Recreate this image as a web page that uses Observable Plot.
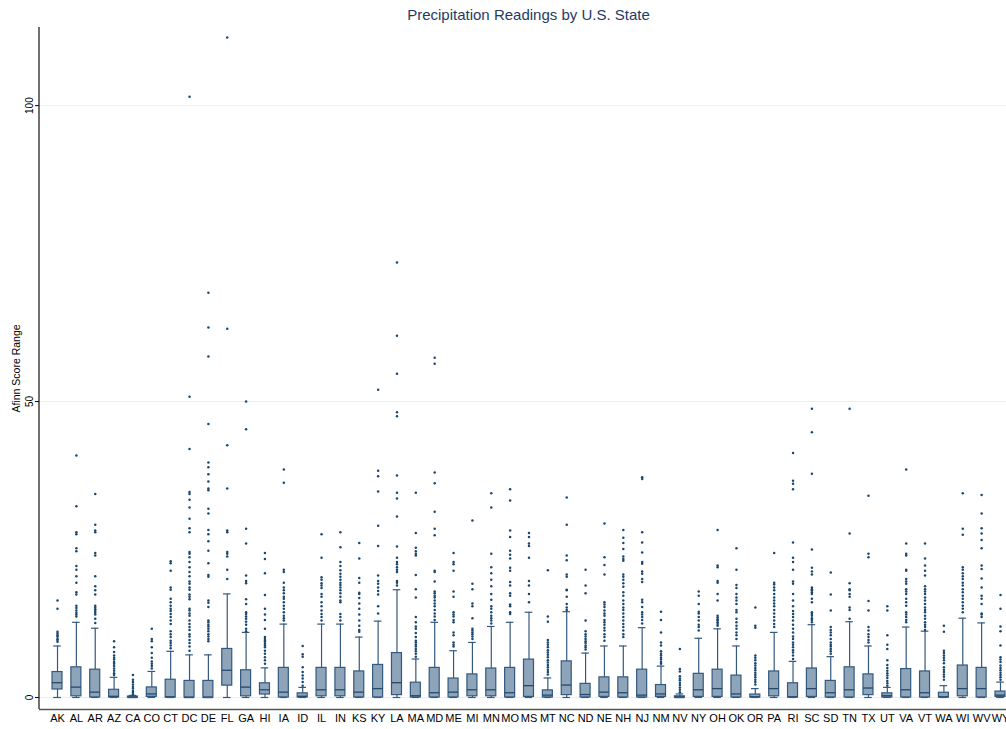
<!DOCTYPE html>
<html>
<head>
<meta charset="utf-8">
<script src="https://cdn.jsdelivr.net/npm/d3@7"></script>
<script src="https://cdn.jsdelivr.net/npm/@observablehq/plot@0.6"></script>
<style>
  html, body { margin: 0; padding: 0; background: #fff; overflow: hidden; }
  #wrap { position: relative; width: 1018px; height: 729px; }
  #title {
    position: absolute; left: 39px; width: 979px; top: 6px;
    text-align: center; line-height: 20px;
    font: 15px "Liberation Sans", Arial, sans-serif; color: #1e3b66;
  }
  #chart { position: absolute; left: 0; top: 27px; }
</style>
</head>
<body>
<div id="wrap">
  <div id="title">Precipitation Readings by U.S. State</div>
  <div id="chart"></div>
</div>
<script>
// States along the x axis
const states = ["AK","AL","AR","AZ","CA","CO","CT","DC","DE","FL","GA","HI","IA","ID","IL","IN","KS","KY","LA","MA","MD","ME","MI","MN","MO","MS","MT","NC","ND","NE","NH","NJ","NM","NV","NY","OH","OK","OR","PA","RI","SC","SD","TN","TX","UT","VA","VT","WA","WI","WV","WY"];

// Box statistics per state (same order as states)
const whiskerLow = states.map(() => 0);
const boxLow = [1.35,0.2,0,0,0,0.1,0,0,0,2.0,0.2,0.5,0,0,0.2,0.2,0,0,0.4,0,0,0,0.2,0.2,0,0.1,0,0.4,0,0.1,0,0,0.1,0,0.1,0.1,0,0,0.2,0,0.1,0,0,0.4,0,0,0,0,0.2,0,0.1];
const boxMedian = [2.5,1.75,0.9,0.2,0,0.6,0.1,0,0,4.6,1.75,1.3,0.9,0.2,1.3,1.3,0.9,1.5,2.5,0.3,0.8,0.9,1.3,1.3,0.8,2.0,0.4,2.1,0.5,0.9,0.8,0.4,0.6,0,1.3,1.5,0.6,0.1,1.5,0.1,1.5,0.8,1.3,1.6,0.3,1.3,0.8,0.1,1.5,1.5,0.4];
const boxHigh = [4.3,5.1,4.7,1.3,0.15,1.7,3.0,2.8,2.8,8.2,4.6,2.4,5.0,0.7,5.0,5.0,4.4,5.5,7.5,2.5,5.0,3.2,3.9,4.9,5.0,6.4,1.2,6.1,2.3,3.4,3.4,4.7,2.1,0.2,4.0,4.7,3.7,0.5,4.4,2.4,4.9,2.8,5.1,3.9,0.7,4.8,4.4,0.8,5.4,5.0,1.0];
const whiskerHigh = [8.7,12.7,11.7,3.4,0.35,4.4,7.8,7.2,7.2,17.5,11.0,5.0,12.4,1.7,12.4,12.4,10.2,12.9,18.2,6.5,12.7,7.9,9.3,12.0,12.7,14.4,3.3,14.5,7.5,8.7,8.7,11.8,5.3,0.6,10.0,11.6,8.7,1.5,11.0,6.1,12.3,6.9,12.8,8.7,1.7,11.9,11.2,2.0,13.4,12.6,2.6];

// Outside values per state (same order as states)
const outliers = [
  [16.4,15.0,11.1,10.8,10.5,10.25,9.9,9.7,9.4],
  [40.9,32.3,27.9,27.6,25.2,24.7,22.2,21.6,20.5,19.4,17.8,17.4,15.5,15.1,14.7,14.3,14.0,13.7],
  [34.4,29.2,28.2,27.9,24.4,24.0,20.5,18.8,18.1,17.4,15.5,15.2,14.9,14.6,14.3,14.0,13.3,12.6],
  [9.5,8.5,7.7,7.1,6.7,6.4,6.0,5.7,5.3,4.9,4.5,4.1,3.8],
  [3.8,3.0,2.6,2.2,1.8,1.5,1.1,0.8,0.5],
  [11.6,9.9,9.5,8.5,7.5,6.7,6.1,5.7,5.3,4.9],
  [23.0,22.7,21.4,18.6,18.2,16.7,16.1,15.5,15.0,14.6,14.1,13.6,13.0,12.4,11.2,10.7,10.2,9.6,9.2,8.8,8.3],
  [101.5,50.8,42.0,34.7,34.4,33.4,32.1,30.2,28.6,27.9,24.6,24.3,23.7,22.9,22.0,21.2,20.5,19.6,19.2,18.6,18.2,17.4,17.0,16.6,15.0,14.7,14.2,13.8,13.0,12.4,11.9,11.4,10.7,10.3,9.7,9.2,8.6,7.9],
  [68.4,62.5,57.6,46.2,39.7,38.9,37.7,36.5,35.3,35.0,31.9,31.1,28.3,27.6,26.4,24.8,22.7,20.7,20.4,16.4,16.0,15.3,13.0,12.7,12.3,12.0,11.6,11.2,10.7,10.3,9.9,9.5],
  [111.5,62.3,42.6,35.3,28.2,27.9,24.6,24.3,23.8,21.6,20.0],
  [50.0,45.3,28.5,26.0,20.6,19.7,19.3,16.6,15.8,14.4,14.1,13.7,13.3,12.8,12.3,11.6,11.2],
  [24.4,23.4,21.0,17.3,15.0,14.0,13.1,11.6,10.2,9.9,9.6,9.4,9.1,8.8,8.5,7.9,7.4,6.8,6.3,5.7],
  [38.5,36.3,21.6,21.2,19.4,18.6,18.1,17.6,17.0,16.7,16.1,15.5,15.0,14.4,13.8,13.4,13.0],
  [8.7,7.3,6.9,5.1,4.3,3.7,3.2,2.6,2.0],
  [27.6,23.6,20.3,19.9,19.3,18.9,18.5,17.5,17.0,16.1,15.4,14.7,14.1,13.6,13.0],
  [27.9,25.4,22.9,22.2,21.5,20.9,20.4,19.9,19.4,19.0,18.6,18.1,17.6,17.0,16.4,16.1,14.1,13.6,13.0],
  [26.1,23.5,20.2,19.4,17.7,17.5,16.8,15.9,15.0,14.0,13.0,12.1,11.4,11.1],
  [52.0,38.3,37.4,34.8,29.0,25.6,20.6,19.7,19.2,18.6,18.0,17.4,15.4,14.2],
  [73.5,61.1,54.7,48.2,47.5,37.5,34.6,33.6,30.6,25.5,23.6,22.9,22.5,22.0,21.6,21.2,19.7,19.4,18.9],
  [34.6,27.8,25.3,24.7,24.3,24.0,20.7,18.3,16.9,13.6,12.7,12.0,11.6,10.9,10.2,9.6,9.3,8.9,8.6,8.2,7.8,7.4,6.9],
  [57.4,56.4,38.0,36.2,31.4,28.5,27.4,21.4,21.2,19.6,17.9,17.6,17.2,16.9,16.4,15.9,15.4,14.8,14.2,13.7,13.1],
  [24.4,22.9,22.5,21.4,17.9,17.0,14.4,14.0,13.7,13.1,12.7,11.0,10.5,9.3,8.9,8.6],
  [29.9,19.2,18.3,15.9,15.4,13.4,11.6,11.3,11.0,10.7,10.3,9.9],
  [34.5,32.1,24.3,22.0,21.0,19.9,18.8,17.5,16.5,15.4,15.0,14.4,13.8,13.4,13.0,12.5],
  [35.2,33.3,28.2,27.1,24.8,24.1,23.5,21.9,21.4,19.5,18.9,17.6,17.2,15.7,15.4,14.4,14.1],
  [27.8,27.1,26.0,25.6,23.6,19.7,18.9,17.5,16.1],
  [21.5,13.7,12.8,9.7,9.3,8.9,8.5,8.0,7.6,7.2,6.8,6.3,5.9,5.5,5.1,4.7,4.3,3.9],
  [33.8,29.2,24.0,23.2,20.8,20.4,18.2,18.1,17.0,15.8,15.2,14.8],
  [21.6,18.9,17.6,13.0,11.2,10.7,10.3,9.9,9.5,9.2,8.8,8.5,8.1],
  [29.4,23.7,22.4,20.8,16.1,15.7,15.3,14.7,14.2,13.8,13.1,12.7,12.3,11.8,11.3,10.7,10.2,9.6],
  [28.3,27.0,26.1,25.1,23.8,23.4,23.1,20.8,20.4,19.9,19.3,18.7,17.8,17.2,16.4,15.8,15.2,14.8,14.2,13.6,13.0,12.4,11.9,11.3,10.7,10.2],
  [37.2,36.9,27.9,26.2,24.5,22.9,22.6,21.3,20.9,20.0,19.5,16.5,16.1,15.3,14.4,14.0,13.6,13.1,12.5],
  [14.5,13.1,11.0,9.3,8.8,7.8,7.4,7.1,6.7,6.4,6.0,5.7],
  [8.2,4.8,4.4,3.6,3.2,2.9,2.5,2.1,1.7,1.3,0.9],
  [17.9,17.2,15.8,14.5,14.2,13.6,13.0,12.3,11.9,11.3],
  [28.3,22.3,22.0,19.7,19.4,17.5,16.4,13.8,13.5,13.2,13.0,12.7,12.4,12.1],
  [25.2,21.6,19.0,18.5,17.5,16.9,16.4,15.8,14.8,14.4,13.3,12.7,12.1,11.6,11.0,10.5,9.9],
  [15.2,12.1,11.8,7.1,6.7,6.3,5.8,5.4,5.0,4.6,4.2,3.8,3.4,3.0,2.6,2.2],
  [24.4,19.4,19.1,18.6,18.1,17.5,16.9,16.4,15.9,15.4,14.8,14.2,13.6,13.0,12.4,11.9],
  [41.3,36.6,36.1,35.2,26.2,23.6,22.9,21.6,19.6,19.2,17.5,16.4,15.4,14.6,14.1,13.6,13.0,12.3,11.6,11.0,10.3,9.9,9.3,8.9,8.5,8.0,7.6,7.1,6.5],
  [48.8,44.8,37.8,25.0,21.9,21.3,20.8,18.6,18.3,18.1,17.8,17.5,16.7,16.1,14.4,14.1,13.8,13.4,13.1,12.7],
  [21.1,17.4,14.7,11.9,11.4,11.0,10.5,9.9,9.3,8.9,8.6,8.2,7.8,7.4],
  [48.8,27.7,19.3,18.3,18.1,17.5,17.0,15.2,14.8,13.3],
  [34.1,24.3,23.7,16.3,14.7,11.9,11.3,10.7,10.2,9.7,9.3],
  [15.4,14.7,10.5,8.9,8.2,6.3,5.5,5.0,4.5,4.1,3.7,3.3,2.8,2.4,2.0],
  [38.5,26.0,24.3,24.0,21.6,21.4,20.0,19.6,19.2,18.3,17.9,17.5,16.7,16.1,15.5,14.4,14.0,13.6,13.1,12.7],
  [26.0,23.5,22.3,21.4,20.6,18.8,18.3,17.9,17.5,16.9,16.4,15.8,15.2,14.8,14.4,13.8,13.3,12.7,12.3,11.9,11.4],
  [12.1,11.1,7.9,7.5,7.1,6.7,6.3,5.8,5.1,4.7,4.3,3.9,3.5,3.0],
  [34.5,28.5,27.5,22.0,21.6,21.0,20.5,20.0,19.4,18.9,18.3,17.8,17.2,16.7,16.1,15.5,15.0,14.4],
  [34.2,31.1,28.6,27.7,26.6,25.2,22.3,21.7,20.1,18.6,17.2,16.7,15.8,14.2,14.0,13.6],
  [17.3,15.0,12.0,11.2,8.8,6.8,6.4,6.0,5.4,5.0,4.6,4.2,3.8,3.4,3.0]
];

// Value axis
const yTicks = [0, 50, 100];
const yDomain = [-2.03, 113.2];

// Tables for the marks
const stats = states.map((state, i) => ({
  state,
  lo: whiskerLow[i], q1: boxLow[i], med: boxMedian[i], q3: boxHigh[i], hi: whiskerHigh[i]
}));
const outlierRows = states.flatMap((state, i) => outliers[i].map(value => ({state, value})));

const navy = "#1a476f";
const boxFill = "#8ea4b9";
const boxStroke = "#33597f";
const whisker = "#35597d";

const plot = Plot.plot({
  width: 1018,
  height: 702,
  marginLeft: 39,
  marginRight: 0,
  marginTop: 0,
  marginBottom: 20,
  style: {fontFamily: '"Liberation Sans", Arial, sans-serif', background: "white", color: "#000"},
  x: {domain: states, paddingInner: 0.47, paddingOuter: 0.69, label: null},
  y: {domain: yDomain, label: null},
  marks: [
    Plot.gridY(yTicks, {stroke: "#e8eff1", strokeOpacity: 1, strokeWidth: 1}),
    Plot.axisY(yTicks, {tickSize: 4, tickPadding: 3, tickRotate: -90, fontSize: 10, label: null, tickFormat: d => String(d)}),
    Plot.axisX({tickSize: 0, tickPadding: 5, fontSize: 11, label: null}),
    Plot.text(["Afinn Score Range"], {text: d => d, frameAnchor: "left", textAnchor: "middle", rotate: -90, dx: -23, fontSize: 10.5, fill: "#000"}),
    Plot.ruleY([yDomain[0]], {stroke: "#555", strokeWidth: 1.5}),
    // whiskers
    Plot.ruleX(stats, {x: "state", y1: "lo", y2: "q1", stroke: whisker, strokeWidth: 1.2}),
    Plot.ruleX(stats, {x: "state", y1: "q3", y2: "hi", stroke: whisker, strokeWidth: 1.2}),
    // boxes
    Plot.barY(stats, {x: "state", y1: "q1", y2: "q3", fill: boxFill, stroke: boxStroke, strokeWidth: 1.2}),
    Plot.tickY(stats, {x: "state", y: "med", stroke: "#24496f", strokeWidth: 1.3}),
    // whisker caps
    Plot.tickY(stats, {x: "state", y: "hi", stroke: whisker, strokeWidth: 1.2, insetLeft: 1.2, insetRight: 1.2}),
    Plot.tickY(stats, {x: "state", y: "lo", stroke: whisker, strokeWidth: 1.2, insetLeft: 1.2, insetRight: 1.2}),
    // outside values
    Plot.dot(outlierRows, {x: "state", y: "value", r: 1.25, fill: navy, stroke: "none"})
  ]
});

// y axis line along the left edge of the plot area
const xr = plot.scale("x").range;
const yr = plot.scale("y").range;
d3.select(plot).append("line")
  .attr("x1", xr[0]).attr("x2", xr[0])
  .attr("y1", yr[0]).attr("y2", yr[1])
  .attr("stroke", "#111").attr("stroke-width", 1.2);

document.getElementById("chart").appendChild(plot);
</script>
</body>
</html>
